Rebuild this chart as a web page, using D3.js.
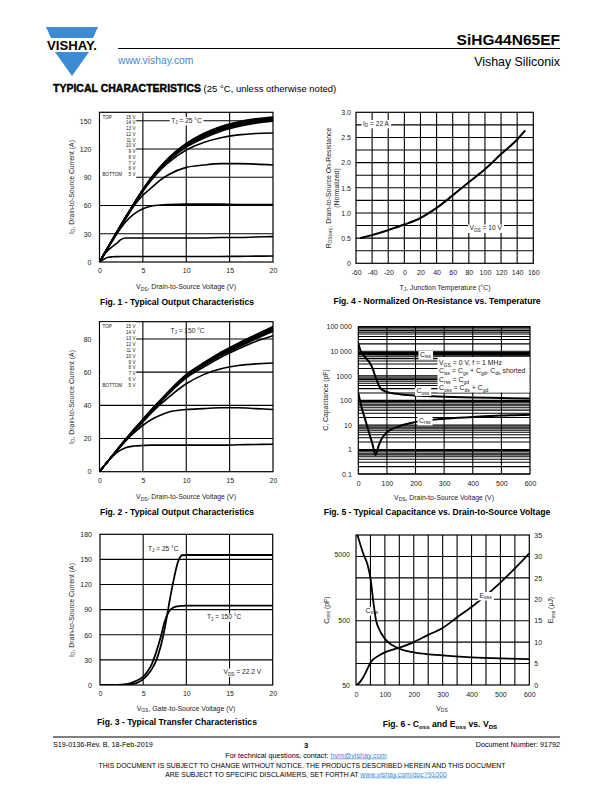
<!DOCTYPE html>
<html><head><meta charset="utf-8">
<script src="https://cdn.jsdelivr.net/npm/d3@7"></script>
<style>
body{margin:0;background:#fff}
svg{display:block}
</style>
</head><body>
<svg id="page" width="612" height="792"></svg>
<script>
// ---------------- DATA ----------------
// Fig 1 : output characteristics, TJ = 25 °C
const fig1Vds = [0, 0.5, 1, 1.5, 2, 2.5, 3, 4, 5, 6, 7, 8, 10, 12, 14, 16, 18, 20];
const fig1Id15V = [0, 8, 16, 24, 32, 40, 47.5, 62.5, 77, 90, 101, 111, 126, 136.5, 144, 149, 152, 154];
const fig1Id14V = [0, 8, 16, 24, 32, 40, 47.5, 62.5, 77, 90, 101, 110.5, 125.5, 136, 143.5, 148, 151, 153];
const fig1Id13V = [0, 8, 16, 24, 32, 40, 47.5, 62.5, 76.5, 89.5, 100.5, 110, 125, 135, 142.5, 147, 150, 152];
const fig1Id12V = [0, 8, 16, 24, 31.5, 39.5, 47, 62, 76.5, 89, 100, 109.5, 124, 134, 141.5, 146, 149, 151];
const fig1Id11V = [0, 8, 16, 23.5, 31.5, 39.5, 47, 62, 76, 88.5, 99.5, 109, 123.5, 133, 140.5, 145, 148.5, 150.5];
const fig1Id10V = [0, 8, 15.5, 23.5, 31.5, 39, 47, 61.5, 76, 88, 99, 108, 122, 131.5, 139, 144, 147.5, 149.5];
const fig1Id9V  = [0, 8, 15.5, 23.5, 31, 39, 46.5, 61, 75, 87, 97.5, 106, 119, 127, 132, 135, 136.5, 137];
const fig1Id8V  = [0, 8, 15.5, 23, 30.5, 38, 45.5, 60, 71, 79, 87, 93, 100.5, 103, 104.5, 104.5, 104, 103];
const fig1Id7V  = [0, 8, 15, 22.5, 30, 36.5, 42.5, 51, 56.5, 59.5, 60.5, 61, 61.5, 61.5, 61.5, 61, 61, 61];
const fig1Id6V  = [0, 7, 12.5, 16.5, 20, 24, 25.5, 25.5, 25.5, 25.5, 25.5, 25.5, 25.5, 25.5, 26, 26, 26.5, 27];
const fig1Id5V  = [0, 3, 5, 5.5, 5.7, 5.8, 5.8, 5.8, 5.8, 5.8, 5.8, 5.8, 5.8, 5.8, 5.9, 6, 6.2, 6.3];
const fig1XTicks = [0, 5, 10, 15, 20];
const fig1YTicks = [0, 30, 60, 90, 120, 150];

// Fig 2 : output characteristics, TJ = 150 °C
const fig2Vds = [0, 1, 2, 3, 4, 5, 6, 7, 8, 10, 12, 14, 16, 18, 20];
const fig2Id15V = [0, 6.5, 13, 19.5, 25.5, 31.5, 37.5, 43, 48.5, 58.5, 65.5, 72, 77.5, 82.5, 87.5];
const fig2Id14V = [0, 6.5, 13, 19.5, 25.5, 31.5, 37.5, 43, 48.5, 58.5, 65.5, 71.5, 77, 82, 87];
const fig2Id13V = [0, 6.5, 13, 19.5, 25.5, 31.5, 37, 42.5, 48, 58, 65, 71, 76.5, 81.5, 86.5];
const fig2Id12V = [0, 6.5, 13, 19, 25.5, 31, 37, 42.5, 48, 58, 65, 71, 76, 81, 86];
const fig2Id11V = [0, 6.5, 13, 19, 25, 31, 36.5, 42, 47.5, 57.5, 64.5, 70.5, 75.5, 80.5, 85.5];
const fig2Id10V = [0, 6.5, 12.5, 19, 25, 30.5, 36.5, 42, 47.5, 57, 64, 70, 75, 80, 84.5];
const fig2Id9V  = [0, 6.5, 12.5, 19, 25, 30.5, 36, 41.5, 47, 56.5, 63, 69, 74, 78.5, 82];
const fig2Id8V  = [0, 6.5, 12.5, 18.5, 24.5, 30, 35.5, 40.5, 45, 53, 58.5, 62, 64, 65, 65.5];
const fig2Id7V  = [0, 6.5, 12.5, 18.5, 23.5, 28, 31.5, 34, 36, 37.5, 38, 38.5, 38.5, 38, 37.5];
const fig2Id6V  = [0, 6.5, 11.5, 14.5, 15.5, 15.8, 16, 16, 16, 16, 16, 16, 16.2, 16.4, 16.5];
const fig2XTicks = [0, 5, 10, 15, 20];
const fig2YTicks = [0, 20, 40, 60, 80];

const vgsLegend = ["15 V", "14 V", "13 V", "12 V", "11 V", "10 V", "9 V", "8 V", "7 V", "6 V", "5 V"];

// Fig 3 : transfer characteristics
const fig3Vgs    = [0, 2, 3, 3.5, 4, 4.5, 5, 5.5, 6, 6.5, 7, 7.5, 8, 8.5, 9, 9.5, 10, 12, 15, 20];
const fig3Id25C  = [0, 0, 0.2, 0.6, 1.5, 3.5, 7, 12, 19, 29, 45, 68, 97, 124, 146, 155, 155.3, 155.3, 155.3, 155.3];
const fig3Id150C = [0, 0.2, 1, 2, 4, 6.5, 10, 16, 25, 39, 56, 76, 88, 92.5, 94, 94.5, 94.7, 94.7, 94.7, 94.7];
const fig3XTicks = [0, 5, 10, 15, 20];
const fig3YTicks = [0, 30, 60, 90, 120, 150, 180];

// Fig 4 : normalized on-resistance vs temperature
const fig4Tj  = [-55, -40, -20, 0, 20, 40, 60, 80, 100, 120, 140, 150];
const fig4Rds = [0.5, 0.56, 0.66, 0.77, 0.9, 1.1, 1.35, 1.61, 1.87, 2.17, 2.46, 2.64];
const fig4XTicks = [-60, -40, -20, 0, 20, 40, 60, 80, 100, 120, 140, 160];
const fig4YTicks = [0, 0.5, 1, 1.5, 2, 2.5, 3];
const fig4YLabels = ["0", "0.5", "1.0", "1.5", "2.0", "2.5", "3.0"];

// Fig 5 : capacitance vs VDS
const fig5CissV = [0, 100, 200, 300, 400, 500, 600];
const fig5Ciss  = [7800, 7600, 7500, 7400, 7300, 7250, 7200];
const fig5CossV = [0, 10, 20, 30, 40, 50, 60, 70, 80, 100, 125, 150, 200, 250, 300, 400, 500, 600];
const fig5Coss  = [21000, 9000, 6500, 4700, 3400, 2000, 900, 450, 290, 220, 190, 175, 158, 148, 140, 130, 124, 118];
const fig5CrssV = [0, 10, 20, 30, 40, 50, 60, 70, 80, 100, 140, 200, 300, 400, 500, 600];
const fig5Crss  = [200, 60, 24, 9.6, 3.9, 1.6, 0.6, 1.3, 2.5, 5, 8.5, 13, 18, 21, 24, 26];
const fig5XTicks = [0, 100, 200, 300, 400, 500, 600];
const fig5YTicks = [0.1, 1, 10, 100, 1000, 10000, 100000];
const fig5YLabels = ["0.1", "1", "10", "100", "1000", "10 000", "100 000"];

// Fig 6 : Coss and Eoss vs VDS
const fig6CossV = [5, 25, 40, 50, 60, 70, 80, 100, 125, 150, 200, 300, 400, 500, 600];
const fig6Coss  = [10000, 5200, 3500, 2200, 950, 480, 360, 255, 205, 180, 158, 142, 133, 128, 125];
const fig6EossV = [0, 10, 25, 40, 50, 60, 80, 100, 150, 200, 250, 300, 350, 400, 450, 500, 550, 600];
const fig6Eoss  = [0, 0.4, 1.8, 3.8, 5.2, 6.0, 6.9, 7.6, 8.7, 10.0, 11.7, 13.3, 15.8, 18.2, 20.9, 23.9, 27.2, 30.7];
const fig6XTicks = [0, 100, 200, 300, 400, 500, 600];
const fig6YLTicks = [50, 500, 5000];
const fig6YRTicks = [0, 5, 10, 15, 20, 25, 30, 35];

// ---------------- DRAWING ----------------
const FONT = '"Liberation Sans", Arial, Helvetica, sans-serif';
const TXT = "#222";
const svg = d3.select("#page");

function rich(t, str, size) {
  const parts = str.split(/(_\{[^}]*\})/).filter(p => p.length);
  let down = false;
  parts.forEach(p => {
    if (p.startsWith("_{")) {
      const s = t.append("tspan").attr("font-size", size * 0.72).text(p.slice(2, -1));
      if (!down) s.attr("dy", size * 0.28);
      down = true;
    } else {
      const s = t.append("tspan").text(p);
      if (down) { s.attr("dy", -size * 0.28); down = false; }
    }
  });
  return t;
}

function label(g, x, y, str, o = {}) {
  const size = o.size || 6.9;
  const t = g.append("text").attr("x", x).attr("y", y)
    .attr("font-size", size).attr("font-family", FONT)
    .attr("fill", o.fill || TXT)
    .attr("text-anchor", o.anchor || "start")
    .attr("font-weight", o.weight || "normal");
  if (o.rotate) t.attr("transform", `rotate(-90,${x},${y})`);
  rich(t, str, size);
  if (o.bg) {
    const b = t.node().getBBox();
    g.insert("rect", () => t.node())
      .attr("x", b.x - 1.5).attr("y", b.y + 0.5)
      .attr("width", b.width + 3).attr("height", b.height - 0.5)
      .attr("fill", "#fff");
  }
  return t;
}

let clipN = 0;
function panel(cfg) {
  const g = svg.append("g");
  const x = cfg.x, y = cfg.y;
  const [x0, x1] = x.range();
  const [yb, yt] = y.range();
  const id = "clip" + (clipN++);
  g.append("clipPath").attr("id", id).append("rect")
    .attr("x", x0).attr("y", yt).attr("width", x1 - x0).attr("height", yb - yt);
  const gy = cfg.yGridScale || y;
  g.append("g").selectAll("line").data(cfg.xGrid).join("line")
    .attr("x1", d => x(d)).attr("x2", d => x(d)).attr("y1", yb).attr("y2", yt)
    .attr("stroke", "#000").attr("stroke-width", cfg.gw || 1.1);
  g.append("g").selectAll("line").data(cfg.yGrid).join("line")
    .attr("y1", d => gy(d)).attr("y2", d => gy(d)).attr("x1", x0).attr("x2", x1)
    .attr("stroke", "#000").attr("stroke-width", cfg.gw || 1.1);
  g.append("rect").attr("x", x0).attr("y", yt).attr("width", x1 - x0).attr("height", yb - yt)
    .attr("fill", "none").attr("stroke", "#000").attr("stroke-width", 1.2);
  const ax = g.append("g").attr("transform", `translate(0,${yb})`)
    .call(d3.axisBottom(x).tickValues(cfg.xTicks).tickFormat(cfg.xFmt || (d => String(d))).tickSize(0).tickPadding(cfg.xPad || 6));
  ax.select(".domain").remove();
  ax.selectAll("text").attr("font-family", FONT).attr("font-size", 7).attr("fill", TXT);
  const ay = g.append("g").attr("transform", `translate(${x0},0)`)
    .call(d3.axisLeft(cfg.yAxisScale || y).tickValues(cfg.yTicks).tickFormat(cfg.yFmt || (d => String(d))).tickSize(0).tickPadding(cfg.yPad || 8));
  ay.select(".domain").remove();
  ay.selectAll("text").attr("font-family", FONT).attr("font-size", 7).attr("fill", TXT);
  const curves = g.append("g").attr("clip-path", `url(#${id})`);
  return {g, curves};
}

function drawCurve(layer, xs, ys, x, y, w, curve) {
  const pts = xs.map((v, i) => [v, ys[i]]);
  layer.append("path").datum(pts)
    .attr("d", d3.line().x(d => x(d[0])).y(d => y(d[1])).curve(curve || d3.curveMonotoneX))
    .attr("fill", "none").attr("stroke", "#000").attr("stroke-width", w || 1.7)
    .attr("stroke-linejoin", "round");
}

// ---------- Header ----------
const BLUE = "#3d8bd3";
svg.append("polygon").attr("points", "46,27 98,27 93,38 51,38").attr("fill", BLUE);
svg.append("polygon").attr("points", "55,52 89,52 72,76").attr("fill", BLUE);
svg.append("text").attr("x", 47).attr("y", 50).attr("font-family", FONT).attr("font-weight", "bold")
  .attr("font-size", 12.5).attr("textLength", 50).attr("lengthAdjust", "spacingAndGlyphs").attr("fill", "#000").text("VISHAY.");
svg.append("line").attr("x1", 118).attr("x2", 560).attr("y1", 48.5).attr("y2", 48.5).attr("stroke", "#000").attr("stroke-width", 1);
svg.append("text").attr("x", 560).attr("y", 45).attr("text-anchor", "end").attr("font-family", FONT)
  .attr("font-weight", "bold").attr("font-size", 15.5).attr("fill", "#000").text("SiHG44N65EF");
svg.append("text").attr("x", 560).attr("y", 66).attr("text-anchor", "end").attr("font-family", FONT)
  .attr("font-size", 12.4).attr("fill", "#000").text("Vishay Siliconix");
svg.append("text").attr("x", 118).attr("y", 64).attr("font-family", FONT)
  .attr("font-size", 10.3).attr("fill", BLUE).text("www.vishay.com");
const th = svg.append("text").attr("x", 53).attr("y", 92).attr("font-family", FONT).attr("fill", "#000");
th.append("tspan").attr("font-weight", "bold").attr("font-size", 10.5).attr("stroke", "#000").attr("stroke-width", 0.4).text("TYPICAL CHARACTERISTICS");
th.append("tspan").attr("font-size", 9.5).text(" (25 °C, unless otherwise noted)");

// ---------- Fig 1 ----------
{
  const x = d3.scaleLinear([0, 20], [99.5, 273]);
  const y = d3.scaleLinear([0, 159], [262, 112.3]);
  const p = panel({x, y, xGrid: [5, 10, 15], yGrid: [30, 60, 90, 120, 150], xTicks: fig1XTicks, yTicks: fig1YTicks, xPad: 6.5});
  [fig1Id15V, fig1Id14V, fig1Id13V, fig1Id12V, fig1Id11V, fig1Id10V, fig1Id9V, fig1Id8V, fig1Id7V, fig1Id6V, fig1Id5V]
    .forEach(s => drawCurve(p.curves, fig1Vds, s, x, y, 1.6));
  p.g.append("rect").attr("x", 100.2).attr("y", 113).attr("width", 36).attr("height", 66).attr("fill", "#fff");
  p.g.append("text").attr("x", 102.5).attr("y", 118.6).attr("font-family", FONT).attr("font-size", 4.6).attr("fill", TXT).text("TOP");
  p.g.append("text").attr("x", 102.5).attr("y", 118.6 + 10 * 5.75).attr("font-family", FONT).attr("font-size", 4.6).attr("fill", TXT).text("BOTTOM");
  p.g.append("g").selectAll("text").data(vgsLegend).join("text")
    .attr("x", 135.5).attr("y", (d, i) => 118.6 + i * 5.75).attr("text-anchor", "end")
    .attr("font-family", FONT).attr("font-size", 4.6).attr("fill", TXT).text(d => d);
  label(p.g, 186.5, 122.5, "T_{J} = 25 °C", {anchor: "middle", bg: true, size: 6.6});
  label(p.g, 186, 289, "V_{DS}, Drain-to-Source Voltage (V)", {anchor: "middle"});
  label(p.g, 73.5, 187, "I_{D}, Drain-to-Source Current (A)", {anchor: "middle", rotate: true});
  label(p.g, 177, 304.5, "Fig. 1 - Typical Output Characteristics", {anchor: "middle", weight: "bold", size: 8.6, fill: "#000"});
}

// ---------- Fig 2 ----------
{
  const x = d3.scaleLinear([0, 20], [99.5, 273]);
  const y = d3.scaleLinear([0, 90.4], [471.7, 321.7]);
  const p = panel({x, y, xGrid: [5, 10, 15], yGrid: [20, 40, 60, 80], xTicks: fig2XTicks, yTicks: fig2YTicks, xPad: 6.5});
  [fig2Id15V, fig2Id14V, fig2Id13V, fig2Id12V, fig2Id11V, fig2Id10V, fig2Id9V, fig2Id8V, fig2Id7V, fig2Id6V]
    .forEach(s => drawCurve(p.curves, fig2Vds, s, x, y, 1.6));
  p.g.append("rect").attr("x", 100.2).attr("y", 322.3).attr("width", 36).attr("height", 67).attr("fill", "#fff");
  p.g.append("text").attr("x", 102.5).attr("y", 327.8).attr("font-family", FONT).attr("font-size", 4.6).attr("fill", TXT).text("TOP");
  p.g.append("text").attr("x", 102.5).attr("y", 327.8 + 10 * 5.95).attr("font-family", FONT).attr("font-size", 4.6).attr("fill", TXT).text("BOTTOM");
  p.g.append("g").selectAll("text").data(vgsLegend).join("text")
    .attr("x", 135.5).attr("y", (d, i) => 327.8 + i * 5.95).attr("text-anchor", "end")
    .attr("font-family", FONT).attr("font-size", 4.6).attr("fill", TXT).text(d => d);
  label(p.g, 187.5, 332.5, "T_{J} = 150 °C", {anchor: "middle", size: 6.6});
  label(p.g, 186, 499, "V_{DS}, Drain-to-Source Voltage (V)", {anchor: "middle"});
  label(p.g, 73.5, 397, "I_{D}, Drain-to-Source Current (A)", {anchor: "middle", rotate: true});
  label(p.g, 177, 514.5, "Fig. 2 - Typical Output Characteristics", {anchor: "middle", weight: "bold", size: 8.6, fill: "#000"});
}

// ---------- Fig 3 ----------
{
  const x = d3.scaleLinear([0, 20], [100, 272.7]);
  const y = d3.scaleLinear([0, 180], [685, 534.3]);
  const p = panel({x, y, xGrid: [5, 10, 15], yGrid: [30, 60, 90, 120, 150], xTicks: fig3XTicks, yTicks: fig3YTicks, xPad: 6.5});
  drawCurve(p.curves, fig3Vgs, fig3Id25C, x, y, 1.8);
  drawCurve(p.curves, fig3Vgs, fig3Id150C, x, y, 1.8);
  label(p.g, 148, 550.5, "T_{J} = 25 °C", {size: 6.6, bg: true});
  label(p.g, 207, 619, "T_{J} = 150 °C", {size: 6.6, bg: true});
  label(p.g, 223.5, 674, "V_{DS} = 22.2 V", {size: 6.6, bg: true});
  label(p.g, 186, 710.5, "V_{GS}, Gate-to-Source Voltage (V)", {anchor: "middle"});
  label(p.g, 73.5, 610, "I_{D}, Drain-to-Source Current (A)", {anchor: "middle", rotate: true});
  label(p.g, 177, 725, "Fig. 3 - Typical Transfer Characteristics", {anchor: "middle", weight: "bold", size: 8.6, fill: "#000"});
}

// ---------- Fig 4 ----------
{
  const x = d3.scaleLinear([-60, 160], [356, 533.3]);
  const y = d3.scaleLinear([0, 3], [263.3, 112.3]);
  const yGrid = d3.range(1, 12).map(i => i * 0.25);
  const p = panel({x, y, xGrid: fig4XTicks.slice(1, -1), yGrid, xTicks: fig4XTicks, yTicks: fig4YTicks,
    yFmt: d => fig4YLabels[fig4YTicks.indexOf(d)], xPad: 6.5, yPad: 5});
  drawCurve(p.curves, fig4Tj, fig4Rds, x, y, 2);
  label(p.g, 363, 125.5, "I_{D} = 22 A", {size: 6.6, bg: true});
  label(p.g, 469.5, 230, "V_{GS} = 10 V", {size: 6.6, bg: true});
  label(p.g, 445, 289.5, "T_{J}, Junction Temperature (°C)", {anchor: "middle"});
  label(p.g, 330.5, 188, "R_{DS(on)}, Drain-to-Source On-Resistance", {anchor: "middle", rotate: true});
  label(p.g, 338.5, 188, "(Normalized)", {anchor: "middle", rotate: true});
  label(p.g, 437, 304, "Fig. 4 -  Normalized On-Resistance vs. Temperature", {anchor: "middle", weight: "bold", size: 8.6, fill: "#000"});
}

// ---------- Fig 5 ----------
{
  const x = d3.scaleLinear([0, 600], [358.3, 530]);
  const y = d3.scaleLog([0.1, 100000], [474, 326.7]);
  const p = panel({x, y, xGrid: [100, 200, 300, 400, 500], yGrid: y.ticks(), xTicks: fig5XTicks, yTicks: fig5YTicks,
    yFmt: d => fig5YLabels[fig5YTicks.indexOf(d)], xPad: 7, yPad: 6.5, gw: 1.05});
  drawCurve(p.curves, fig5CissV, fig5Ciss, x, y, 2);
  drawCurve(p.curves, fig5CossV, fig5Coss, x, y, 2);
  drawCurve(p.curves, fig5CrssV, fig5Crss, x, y, 2);
  p.g.append("rect").attr("x", 437.5).attr("y", 357).attr("width", 92).attr("height", 35.5).attr("fill", "#fff");
  label(p.g, 439, 365, "V_{GS} = 0 V, f = 1 MHz");
  label(p.g, 439, 373.3, "C_{iss} = C_{gs} + C_{gd}, C_{ds} shorted");
  label(p.g, 439, 381.6, "C_{rss} = C_{gd}");
  label(p.g, 439, 389.9, "C_{oss} = C_{ds} + C_{gd}");
  label(p.g, 420, 356.5, "C_{iss}", {bg: true});
  label(p.g, 416.5, 393, "C_{oss}", {bg: true});
  label(p.g, 419, 422.5, "C_{rss}", {bg: true});
  label(p.g, 444, 499.5, "V_{DS}, Drain-to-Source Voltage (V)", {anchor: "middle"});
  label(p.g, 328, 400, "C, Capacitance (pF)", {anchor: "middle", rotate: true});
  label(p.g, 437, 514.5, "Fig. 5 - Typical Capacitance vs. Drain-to-Source Voltage", {anchor: "middle", weight: "bold", size: 8.6, fill: "#000"});
}

// ---------- Fig 6 ----------
{
  const x = d3.scaleLinear([0, 600], [356, 529.3]);
  const yL = d3.scaleLog([50, 10000], [685, 535]);
  const yR = d3.scaleLinear([0, 35], [685, 535]);
  const p = panel({x, y: yL, yGridScale: yR, xGrid: d3.range(50, 600, 50), yGrid: [5, 10, 15, 20, 25, 30],
    xTicks: fig6XTicks, yTicks: fig6YLTicks, xPad: 7, yPad: 6});
  const ar = p.g.append("g").attr("transform", "translate(529.3,0)")
    .call(d3.axisRight(yR).tickValues(fig6YRTicks).tickFormat(d => String(d)).tickSize(0).tickPadding(5));
  ar.select(".domain").remove();
  ar.selectAll("text").attr("font-family", FONT).attr("font-size", 7).attr("fill", TXT);
  drawCurve(p.curves, fig6CossV, fig6Coss, x, yL, 1.8);
  drawCurve(p.curves, fig6EossV, fig6Eoss, x, yR, 1.8);
  label(p.g, 365.5, 612.5, "C_{oss}", {bg: true});
  p.curves.raise();
  label(p.g, 479.5, 597.5, "E_{oss}", {bg: true});
  label(p.g, 442, 710.5, "V_{DS}", {anchor: "middle"});
  label(p.g, 328.5, 610, "C_{oss} (pF)", {anchor: "middle", rotate: true});
  label(p.g, 553, 610, "E_{oss} (µJ)", {anchor: "middle", rotate: true});
  label(p.g, 440, 726.5, "Fig. 6 - C_{oss} and E_{oss} vs. V_{DS}", {anchor: "middle", weight: "bold", size: 8.6, fill: "#000"});
}

// ---------- Footer ----------
svg.append("line").attr("x1", 53).attr("x2", 560).attr("y1", 737).attr("y2", 737).attr("stroke", "#000").attr("stroke-width", 1);
const ft = (x, y, s, anchor, o = {}) => svg.append("text").attr("x", x).attr("y", y).attr("text-anchor", anchor)
  .attr("font-family", FONT).attr("font-size", o.size || 7.2).attr("font-weight", o.weight || "normal").attr("fill", "#000").text(s);
ft(53, 746.5, "S19-0136-Rev. B, 18-Feb-2019", "start");
ft(306, 747.5, "3", "middle", {weight: "bold", size: 7.6});
ft(560, 746.5, "Document Number: 91792", "end");
const l1 = svg.append("text").attr("x", 306).attr("y", 757.5).attr("text-anchor", "middle").attr("font-family", FONT).attr("font-size", 7.2).attr("fill", "#000");
l1.append("tspan").text("For technical questions, contact: ");
l1.append("tspan").attr("fill", BLUE).attr("text-decoration", "underline").text("hvm@vishay.com");
ft(302, 768, "THIS DOCUMENT IS SUBJECT TO CHANGE WITHOUT NOTICE. THE PRODUCTS DESCRIBED HEREIN AND THIS DOCUMENT", "middle", {size: 6.9});
const l2 = svg.append("text").attr("x", 306).attr("y", 776.5).attr("text-anchor", "middle").attr("font-family", FONT).attr("font-size", 6.9).attr("fill", "#000");
l2.append("tspan").text("ARE SUBJECT TO SPECIFIC DISCLAIMERS, SET FORTH AT ");
l2.append("tspan").attr("fill", BLUE).attr("text-decoration", "underline").text("www.vishay.com/doc?91000");
</script>
</body></html>
